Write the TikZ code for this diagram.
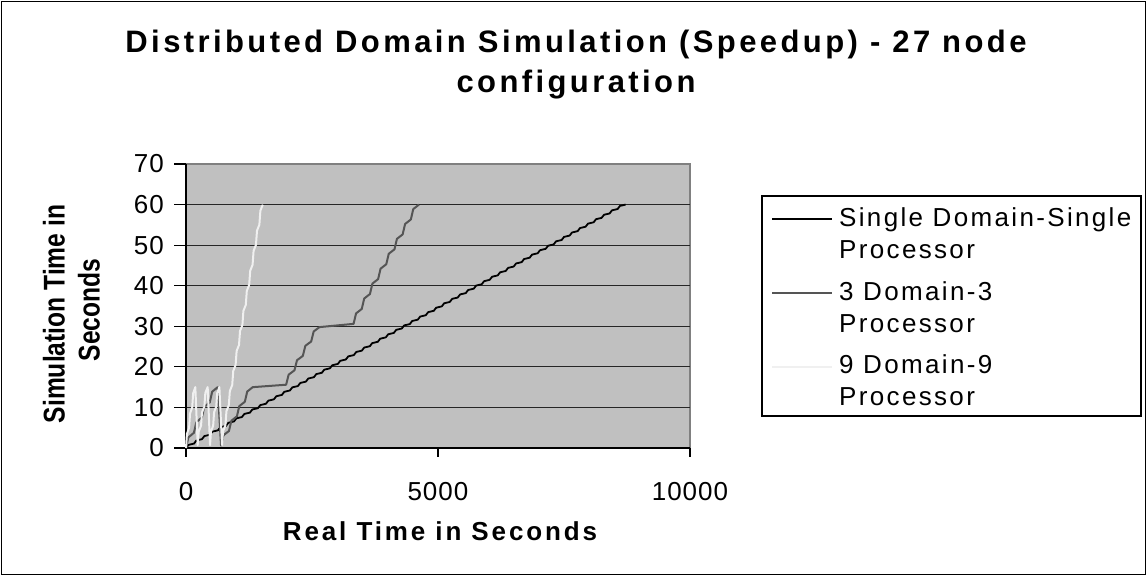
\documentclass[tikz,border=0pt]{standalone}
\usepackage{fontspec}
\setmainfont{Liberation Sans}
\newfontfamily\legfont[LetterSpace=9]{Liberation Sans}
\newfontfamily\tickfont[LetterSpace=4]{Liberation Sans}
\newfontfamily\lsbold[LetterSpace=11]{Liberation Sans Bold}
\newfontfamily\plainbold{Liberation Sans Bold}
\definecolor{plotgray}{HTML}{C0C0C0}
\definecolor{bordergray}{HTML}{808080}
\definecolor{sertwo}{HTML}{555555}
\definecolor{serthree}{HTML}{F0F0F0}
\newcommand{\stairpath}[3]{\foreach \i in {1,...,#3} { -- ++({0.3*#1},{0.7*#2}) -- ++({0.7*#1},{0.3*#2}) }}
\tikzset{
  gridline/.style={black!85, line width=1.1pt},
  axisline/.style={black, line width=1.1pt},
  ticklabel/.style={font=\tickfont\fontsize{26}{30}\selectfont, inner sep=0pt},
  legtext/.style={font=\legfont\fontsize{26}{30}\selectfont, inner sep=0pt, anchor=base west},
  ytitlestyle/.style={font=\plainbold\fontsize{30}{34}\selectfont, rotate=90, inner sep=0pt},
  serone/.style={black, line width=1.8pt, line join=round},
  sertwostyle/.style={sertwo, line width=2pt, line join=round},
  serthreestyle/.style={serthree, line width=2pt, line join=round},
}
\begin{document}
\begin{tikzpicture}[x=1pt,y=-1pt]
\useasboundingbox (0,0) rectangle (1147,576);
\draw[black, line width=1.2pt] (1.5,1.5) rectangle (1145.5,574.5);
% title
\node[font=\lsbold\fontsize{31}{40}\selectfont, align=center, inner sep=0pt] (title) at (576,65)
  {Distributed Domain Simulation (Speedup) - 27 node\\configuration};
% plot area
\fill[plotgray] (186,164) rectangle (690,448);
\draw[bordergray, line width=1.1pt] (186,164) -- (690,164) -- (690,448);
\foreach \v in {10,20,...,60} {
  \draw[gridline] (186,{448-\v*4.057}) -- (690,{448-\v*4.057});
}
\draw[axisline] (186,164) -- (186,448) -- (690,448);
\foreach \v in {0,10,...,70} {
  \draw[axisline] (174,{448-\v*4.057}) -- (186,{448-\v*4.057});
  \node[ticklabel, anchor=east] (yl\v) at (164,{448-\v*4.057}) {\v};
}
\foreach \xp/\lab in {186/0,438/5000,690/10000} {
  \draw[axisline] (\xp,448) -- (\xp,457);
  \node[ticklabel] (xl\lab) at (\xp,492) {\lab};
}
% axis titles
\node[font=\lsbold\fontsize{26}{30}\selectfont, inner sep=0pt] (xtitle) at (440,531) {Real Time in Seconds};
\node[ytitlestyle] (ytitle1) at (54,314) {\scalebox{0.82}[1]{Simulation Time in}};
\node[ytitlestyle] (ytitle2) at (89,310) {\scalebox{0.82}[1]{Seconds}};
% data
\begin{scope}[shift={(186pt,-448pt)}, x=0.0504pt, y=4.057pt]
  \draw[serone] (0,0) \stairpath{158.58}{1.0909}{55};
  \draw[sertwostyle] (0,0) \stairpath{157.25}{3.75}{4} -- (695,0.6) \stairpath{157.5}{3.6}{4}
     -- (1987,15.6) \stairpath{165.5}{3.55}{4} -- (3325,30.6) \stairpath{162.25}{3.675}{8};
  \draw[serthreestyle] (0,0) \stairpath{61.67}{5}{3} -- (232,0.7) \stairpath{66}{4.77}{3}
     -- (477,0.7) \stairpath{61.67}{4.77}{3} -- (715,0.7) \stairpath{67.33}{4.94}{12};
\end{scope}
% legend
\draw[black, line width=1.1pt] (762,196) rectangle (1141,416);
\draw[serone] (772,219) -- (832,219);
\node[legtext] (l1a) at (839,226) {Single Domain-Single};
\node[legtext] (l1b) at (839,258) {Processor};
\draw[sertwostyle] (772,293) -- (832,293);
\node[legtext] (l2a) at (839,300) {3 Domain-3};
\node[legtext] (l2b) at (839,332) {Processor};
\draw[serthreestyle] (772,367) -- (832,367);
\node[legtext] (l3a) at (839,373) {9 Domain-9};
\node[legtext] (l3b) at (839,405) {Processor};
\end{tikzpicture}
\end{document}
